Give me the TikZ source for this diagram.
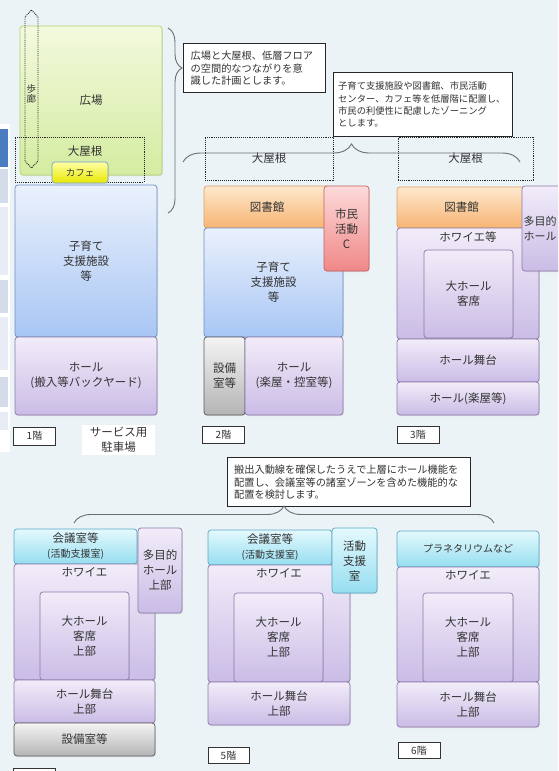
\documentclass[tikz,border=0pt]{standalone}
\usepackage{fontspec}
\setmainfont{Noto Sans CJK JP}
\usepackage{tikz}
\usetikzlibrary{positioning, shadows, decorations.pathreplacing}
\definecolor{colorBack}{RGB}{236,243,247}
\definecolor{colorText}{RGB}{50,50,50}
\definecolor{colorBrace}{RGB}{105,110,115}
\definecolor{greenTop}{RGB}{243,249,222}
\definecolor{greenBot}{RGB}{212,236,160}
\definecolor{greenLine}{RGB}{176,212,110}
\definecolor{blueTop}{RGB}{234,241,252}
\definecolor{blueBot}{RGB}{168,198,244}
\definecolor{blueLine}{RGB}{110,142,196}
\definecolor{purpTop}{RGB}{242,236,249}
\definecolor{purpBot}{RGB}{202,188,230}
\definecolor{purpLine}{RGB}{140,122,170}
\definecolor{orgTop}{RGB}{253,232,204}
\definecolor{orgBot}{RGB}{248,180,116}
\definecolor{orgLine}{RGB}{222,160,100}
\definecolor{redTop}{RGB}{253,218,218}
\definecolor{redBot}{RGB}{240,135,135}
\definecolor{redLine}{RGB}{196,96,96}
\definecolor{cyanTop}{RGB}{228,249,253}
\definecolor{cyanBot}{RGB}{150,222,240}
\definecolor{cyanLine}{RGB}{88,168,200}
\definecolor{grayTop}{RGB}{244,244,244}
\definecolor{grayBot}{RGB}{180,180,180}
\definecolor{grayLine}{RGB}{90,90,90}
\definecolor{cafeTop}{RGB}{255,255,165}
\definecolor{cafeBot}{RGB}{232,232,0}
\definecolor{cafeLine}{RGB}{120,160,210}
\definecolor{tabDark}{RGB}{74,124,192}
\definecolor{tabMid}{RGB}{212,220,234}
\definecolor{tabLight}{RGB}{232,236,244}
\tikzset{sz/.style 2 args={minimum width=#1pt, minimum height=#2pt}}

\begin{document}
\begin{tikzpicture}[x=1pt, y=-1pt,
  room/.style={draw, rounded corners=3pt, inner sep=1pt, align=center, text=colorText,
    font=\fontsize{11.5}{15}\selectfont, line width=0.7pt,
    drop shadow={shadow xshift=0.8pt, shadow yshift=-1pt, opacity=0.2}},
  greenroom/.style={room, draw=greenLine, top color=greenTop, bottom color=greenBot},
  blueroom/.style={room, draw=blueLine, top color=blueTop, bottom color=blueBot},
  purproom/.style={room, draw=purpLine, top color=purpTop, bottom color=purpBot},
  orgroom/.style={room, draw=orgLine, top color=orgTop, bottom color=orgBot},
  redroom/.style={room, draw=redLine, top color=redTop, bottom color=redBot},
  cyanroom/.style={room, draw=cyanLine, top color=cyanTop, bottom color=cyanBot},
  grayroom/.style={room, draw=grayLine, top color=grayTop, bottom color=grayBot},
  caferoom/.style={room, draw=cafeLine, top color=cafeTop, bottom color=cafeBot, font=\fontsize{9.5}{11}\selectfont},
  roof/.style={draw=black!85, densely dotted, line width=0.9pt, text=colorText, font=\fontsize{11.5}{15}\selectfont},
  walk/.style={draw=black!85, densely dotted, line width=0.9pt},
  lbl/.style={inner sep=1pt, align=center, text=colorText, font=\fontsize{11.5}{15}\selectfont},
  floorlbl/.style={draw=black!80, fill=white, line width=1pt, inner sep=1pt, text=colorText, font=\fontsize{10}{12}\selectfont},
  note/.style={draw=black!85, fill=white, line width=1.3pt, align=left, anchor=north west, text=colorText},
  brc/.style 2 args={decorate, decoration={brace, amplitude=#1, aspect=#2}, draw=colorBrace, line width=0.9pt}]

\useasboundingbox (0,0) rectangle (558,771);
\fill[colorBack] (0,0) rectangle (558,771);
\clip (0,0) rectangle (558,771);

\fill[white] (0,124) rectangle (10,452);
\fill[tabDark] (0,129) rectangle (8,167);
\fill[tabMid] (0,169) rectangle (8,203);
\fill[tabLight] (0,207) rectangle (8,275);
\fill[tabMid] (0,280) rectangle (8,313);
\fill[tabLight] (0,317) rectangle (8,370);
\fill[tabMid] (0,377) rectangle (8,407);
\fill[tabLight] (0,412) rectangle (8,430);

\node[greenroom, sz={142}{149}] (plaza1) at (91,100.5) {広場};
\node[roof, sz={129}{45}] (roof1) at (79.5,159.5) {};
\node[lbl] (roof1t) at (85,151) {大屋根};
\node[caferoom, sz={56}{21}] (cafe1) at (80,172.5) {カフェ};
\draw[walk] (31.5,10) -- (38,17) -- (38,161) -- (31.5,168) -- (25,161) -- (25,17) -- cycle;
\node[lbl, font=\fontsize{9.5}{10}\selectfont] (walk1) at (31.5,94) {歩\\廊};
\node[blueroom, sz={142}{152}] (child1) at (86,261) {子育て\\支援施設\\等};
\node[purproom, sz={142}{78}] (hall1) at (86,376) {ホール\\(搬入等バックヤード)};
\node[floorlbl, sz={42}{18}] (fl1) at (34.5,436) {1階};
\node[lbl, fill=white, sz={73}{30}] (park1) at (118.5,440) {サービス用\\駐車場};

\node[roof, sz={128}{43}] (roof2) at (269,158.5) {大屋根};
\node[orgroom, sz={126}{42}] (lib2) at (267,207) {図書館};
\node[blueroom, sz={139}{109}] (child2) at (273.5,282.5) {子育て\\支援施設\\等};
\node[redroom, sz={45}{85}] (civic2) at (346.5,228.5) {市民\\活動\\C};
\node[grayroom, sz={41}{78}] (equip2) at (224.5,376) {設備\\室等};
\node[purproom, sz={98}{78}] (hall2) at (294,376) {ホール\\(楽屋・控室等)};
\node[floorlbl, sz={42}{17}] (fl2) at (223.5,435) {2階};

\node[roof, sz={135}{43}] (roof3) at (465.5,158.5) {大屋根};
\node[orgroom, sz={129}{41}] (lib3) at (461.5,207.5) {図書館};
\node[purproom, sz={142}{111}] (foyer3) at (468,283.5) {};
\node[lbl, below=3pt of foyer3.north] (foyer3t) {ホワイエ等};
\node[purproom, sz={89}{88}] (seat3) at (468.5,294) {大ホール\\客席};
\node[purproom, sz={142}{43}] (stage3) at (468,360.5) {ホール舞台};
\node[purproom, sz={142}{33}] (back3) at (468,398.5) {ホール(楽屋等)};
\node[purproom, sz={44}{85}] (multi3) at (544,228.5) {};
\node[lbl, font=\fontsize{11}{15}\selectfont] (multi3t) at (540,228.5) {多目的\\ホール};
\node[floorlbl, sz={42}{17}] (fl3) at (418,435) {3階};

\node[note, font=\fontsize{10.2}{12.2}\selectfont, text width=128pt, inner xsep=7pt, minimum height=49pt] (note1) at (183,43)
  {広場と大屋根、低層フロア\\の空間的なつながりを意\\識した計画とします。};
\node[note, font=\fontsize{9.3}{12.4}\selectfont, text width=170pt, inner xsep=4.5pt, minimum height=64pt] (note2) at (333,72)
  {子育て支援施設や図書館、市民活動\\センター、カフェ等を低層階に配置し、\\市民の利便性に配慮したゾーニング\\とします。};
\node[note, font=\fontsize{10.2}{12.8}\selectfont, text width=230pt, inner xsep=6.5pt, minimum height=49pt] (note3) at (227,457)
  {搬出入動線を確保したうえで上層にホール機能を\\配置し、会議室等の諸室ゾーンを含めた機能的な\\配置を検討します。};

\coordinate (b1top) at (168,28);
\coordinate (b1bot) at (168,213);
\coordinate (b2left) at (183,162);
\coordinate (b2right) at (520,162);
\coordinate (b3left) at (74,523);
\coordinate (b3right) at (494,523);
\draw[brc={14}{0.216}] (b1top) -- (b1bot);
\draw[brc={18}{0.5}] (b2left) -- (b2right);
\draw[brc={17}{0.5}] (b3left) -- (b3right);

\node[cyanroom, sz={123}{35}] (meet4) at (75.5,546.5) {会議室等\\{\fontsize{10}{15}\selectfont(活動支援室)}};
\node[purproom, sz={141}{116}] (foyer4) at (84.5,622) {};
\node[lbl, below=3pt of foyer4.north] (foyer4t) {ホワイエ};
\node[purproom, sz={89}{88}] (seat4) at (84.5,636) {大ホール\\客席\\上部};
\node[purproom, sz={141}{43}] (stage4) at (84.5,701.5) {ホール舞台\\上部};
\node[grayroom, sz={141}{33}] (equip4) at (84.5,739.5) {設備室等};
\node[purproom, sz={44}{85}] (multi4) at (160,570.5) {多目的\\ホール\\上部};
\node[floorlbl, sz={42}{17}] (fl4) at (34.5,777) {};

\node[cyanroom, sz={124}{35}] (meet5) at (270,547.5) {会議室等\\{\fontsize{10}{15}\selectfont(活動支援室)}};
\node[purproom, sz={142}{117}] (foyer5) at (279,623.5) {};
\node[lbl, below=3pt of foyer5.north] (foyer5t) {ホワイエ};
\node[purproom, sz={89}{89}] (seat5) at (278.5,637.5) {大ホール\\客席\\上部};
\node[purproom, sz={142}{43}] (stage5) at (279,703.5) {ホール舞台\\上部};
\node[cyanroom, sz={45}{65}] (support5) at (354.5,560.5) {活動\\支援\\室};
\node[floorlbl, sz={41}{16}] (fl5) at (228.5,755.5) {5階};

\node[cyanroom, sz={142}{36}, font=\fontsize{10}{12}\selectfont] (plan6) at (468,549) {プラネタリウムなど};
\node[purproom, sz={142}{115}] (foyer6) at (468,624.5) {};
\node[lbl, below=3pt of foyer6.north] (foyer6t) {ホワイエ};
\node[purproom, sz={90}{89}] (seat6) at (468,637.5) {大ホール\\客席\\上部};
\node[purproom, sz={142}{45}] (stage6) at (468,704.5) {ホール舞台\\上部};
\node[floorlbl, sz={42}{16}] (fl6) at (419,750.5) {6階};
\end{tikzpicture}
\end{document}
